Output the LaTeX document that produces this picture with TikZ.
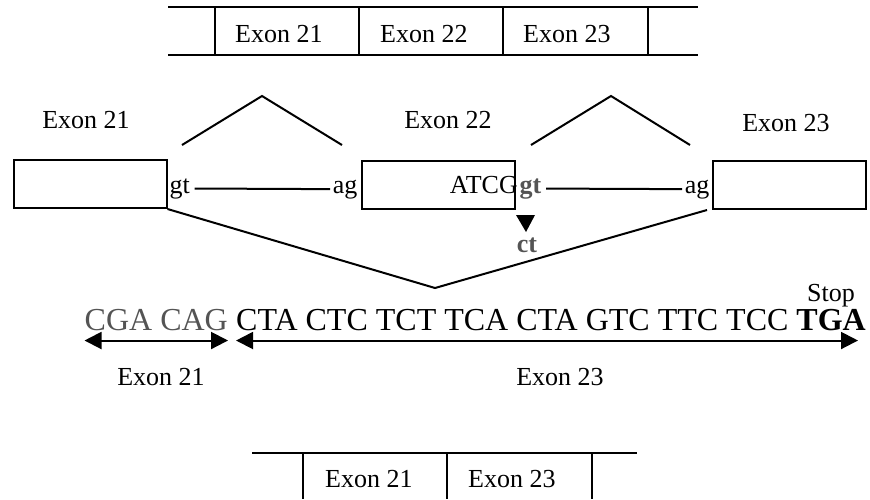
\documentclass[tikz,border=0pt]{standalone}
\usepackage{fontspec}
\setmainfont{Liberation Serif}
\usetikzlibrary{positioning,arrows.meta}
\definecolor{mutgray}{gray}{0.33}
\begin{document}
\begin{tikzpicture}[x=1pt,y=-1pt,
    lbl/.style={font=\fontsize{26}{28}\selectfont, inner sep=0pt},
    site/.style={font=\fontsize{26}{28}\selectfont, inner sep=1.5pt},
    seqtxt/.style={font=\fontsize{32}{34}\selectfont, inner sep=0pt},
    exonbox/.style={draw, line width=2pt, minimum width=153pt, minimum height=48pt, inner sep=0pt},
    bar/.style={line width=2.5pt},
    divider/.style={line width=1.5pt},
    link/.style={line width=2pt},
    span/.style={line width=2pt, {Triangle[length=17pt,width=17pt]}-{Triangle[length=17pt,width=17pt]}}]
\useasboundingbox (0,0) rectangle (870,499);

% Normal transcript (top)
\draw[bar] (168,7) -- (698,7);
\draw[bar] (168,55) -- (698,55);
\foreach \x in {215,359,503,648}
    \draw[divider] (\x,7) -- (\x,55);
\foreach \x/\label in {235/21, 380/22, 523/23}
    \node[lbl, anchor=base west] (top\label) at (\x,42) {Exon \label};

% Genomic exons
\node[exonbox] (exon21) at (90,184) {};
\node[exonbox] (exon22) at (438.5,184.5) {};
\node[exonbox] (exon23) at (789.5,184.5) {};
\node[lbl, anchor=base] (name21) at (86,128) {Exon 21};
\node[lbl, anchor=base] (name22) at (448,128) {Exon 22};
\node[lbl, anchor=base] (name23) at (786,131) {Exon 23};

% Introns with splice sites
\node[site, anchor=base west] (gt1) at (168,193) {gt};
\node[site, anchor=base east] (ag1) at (359,193) {ag};
\draw[link, shorten <=3pt, shorten >=1pt] (gt1.east) -- (ag1.west);
\node[lbl, anchor=base east] (atcg) at (518,193) {ATCG};
\node[site, anchor=base west, text=mutgray, font=\fontsize{26}{28}\selectfont\bfseries] (gt2) at (518,193) {gt};
\node[site, anchor=base east] (ag2) at (711,193) {ag};
\draw[link, shorten <=3pt, shorten >=1pt] (gt2.east) -- (ag2.west);

% Mutation gt -> ct
\fill (516,215) -- (535,215) -- (526,232) -- cycle;
\node[lbl, anchor=base, text=mutgray, font=\fontsize{26}{28}\selectfont\bfseries] (ct) at (527,252) {ct};

% Normal splicing
\coordinate (top1) at (262,96);
\coordinate (top2) at (611,96);
\draw[link] (182,145) -- (top1) -- (342,145);
\draw[link] (531,145) -- (top2) -- (690,145);

% Exon 22 skipped
\coordinate (join) at (435,288);
\draw[link] (exon21.south east) -- (join) -- (707,210);

% Mutant sequence
\node[seqtxt, anchor=base east] (seq23) at (866,330) {CTA CTC TCT TCA CTA GTC TTC TCC \textbf{TGA}};
\node[seqtxt, anchor=base east, text=mutgray] (seq21) at ([xshift=-8pt]seq23.base west) {CGA CAG};
\node[lbl, anchor=base east] (stop) at (855,301) {Stop};
\draw[span] ([yshift=-10pt]seq21.south west) -- ([yshift=-10pt]seq21.south east);
\draw[span] ([yshift=-10pt]seq23.south west) -- ([yshift=-10pt,xshift=-8pt]seq23.south east);
\node[lbl, anchor=base] (len21) at (161,385) {Exon 21};
\node[lbl, anchor=base] (len23) at (560,385) {Exon 23};

% Mutant transcript (bottom)
\draw[bar] (252,453) -- (637,453);
\foreach \x in {303,447,592}
    \draw[divider] (\x,453) -- (\x,499);
\foreach \x/\label in {325/21, 468/23}
    \node[lbl, anchor=base west] (bot\label) at (\x,487) {Exon \label};
\end{tikzpicture}
\end{document}
